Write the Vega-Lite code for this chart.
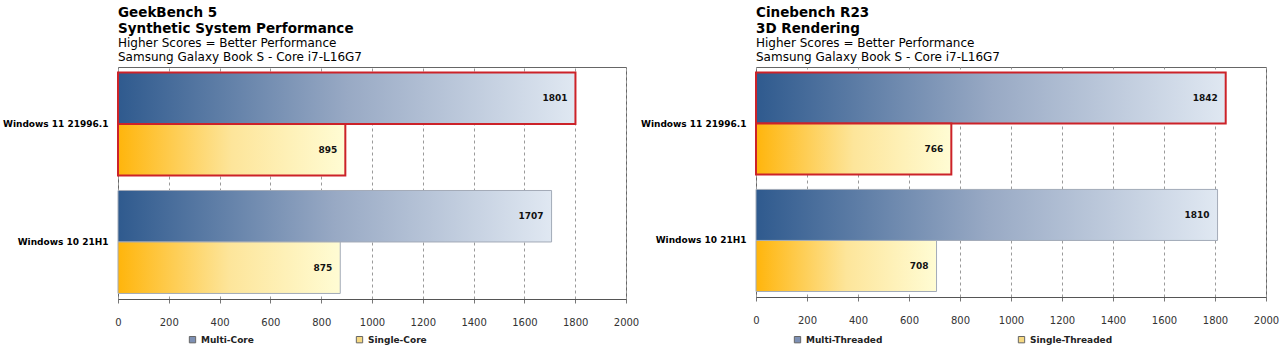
{
  "$schema": "https://vega.github.io/schema/vega-lite/v6.json",
  "background": "white",
  "padding": {"left": 2, "top": 5, "right": 0, "bottom": 2},
  "bounds": "flush",
  "spacing": 130,
  "config": {
    "font": "DejaVu Sans",
    "view": {"stroke": "#666", "strokeWidth": 1},
    "axisX": {"values": [0,200,400,600,800,1000,1200,1400,1600,1800,2000], "format": "d", "labelFlush": false, "grid": true, "gridDash": [3,3], "gridColor": "#9a9a9a", "tickColor": "#777", "tickSize": 4, "labelFont": "DejaVu Sans", "labelFontSize": 10, "labelColor": "#333", "labelPadding": 14, "domainColor": "#555", "title": null},
    "axisY": {"title": null, "ticks": false, "domain": false, "labelFont": "DejaVu Sans", "labelFontWeight": "bold", "labelFontSize": 9, "labelColor": "#000", "labelPadding": 10, "minExtent": 114, "maxExtent": 114, "labelLimit": 130},
    "title": {"anchor": "start", "frame": "group", "fontSize": 13.5, "fontWeight": "bold", "lineHeight": 16, "subtitleFontSize": 12, "subtitleLineHeight": 14, "subtitlePadding": 3, "offset": 4, "color": "#000", "subtitleColor": "#000", "subtitleFont": "DejaVu Sans"},
    "legend": {"symbolType": "square", "symbolSize": 40, "symbolStrokeColor": "#666", "symbolStrokeWidth": 1, "symbolOpacity": 1, "labelFont": "DejaVu Sans", "labelFontWeight": "bold", "labelFontSize": 9, "labelColor": "#222", "title": null, "direction": "horizontal", "orient": "none"}
  },
  "resolve": {"scale": {"color": "independent", "x": "independent", "y": "independent", "yOffset": "independent"}},
  "hconcat": [
    {
      "title": {"text": ["GeekBench 5", "Synthetic System Performance"], "subtitle": ["Higher  Scores = Better Performance", "Samsung  Galaxy  Book  S - Core  i7-L16G7"]},
      "width": 508,
      "height": 232,
      "data": {"values": [
        {"os": "Windows 11 21996.1", "series": "Multi-Core", "score": 1801},
        {"os": "Windows 11 21996.1", "series": "Single-Core", "score": 895},
        {"os": "Windows 10 21H1", "series": "Multi-Core", "score": 1707},
        {"os": "Windows 10 21H1", "series": "Single-Core", "score": 875}
      ]},
      "encoding": {
        "y": {"field": "os", "type": "nominal", "sort": ["Windows 11 21996.1", "Windows 10 21H1"], "scale": {"paddingInner": 0.127, "paddingOuter": 0.047}},
        "yOffset": {"field": "series", "type": "nominal", "sort": ["Multi-Core", "Single-Core"], "scale": {"paddingInner": 0}},
        "x": {"field": "score", "type": "quantitative", "scale": {"domain": [0, 2000], "nice": false}}
      },
      "layer": [
        {
          "mark": {"type": "bar"},
          "encoding": {
            "fill": {"condition": {"test": "datum.series === 'Multi-Core'", "value": {"gradient": "linear", "x1": 0, "y1": 0, "x2": 1, "y2": 0, "stops": [{"offset": 0, "color": "#2f5a8e"}, {"offset": 0.5, "color": "#98a9c4"}, {"offset": 1, "color": "#e0e8f2"}]}}, "value": {"gradient": "linear", "x1": 0, "y1": 0, "x2": 1, "y2": 0, "stops": [{"offset": 0, "color": "#ffb50c"}, {"offset": 0.5, "color": "#fde59a"}, {"offset": 1, "color": "#fffcd4"}]}},
            "stroke": {"condition": {"test": "datum.os === 'Windows 11 21996.1'", "value": "#cc2229"}, "value": "#a3abb8"},
            "strokeWidth": {"condition": {"test": "datum.os === 'Windows 11 21996.1'", "value": 2}, "value": 1}
          }
        },
        {
          "mark": {"type": "text", "align": "right", "dx": -8, "fontWeight": "bold", "fontSize": 9, "color": "#111"},
          "encoding": {"text": {"field": "score", "type": "quantitative"}}
        },
        {
          "mark": {"type": "square", "opacity": 0},
          "encoding": {
            "color": {"field": "series", "type": "nominal", "scale": {"domain": ["Multi-Core", "Single-Core"], "range": ["#7d90b4", "#f6d982"]}, "legend": {"legendX": 70, "legendY": 268, "columnPadding": 100}}
          }
        }
      ]
    },
    {
      "title": {"text": ["Cinebench  R23", "3D Rendering"], "subtitle": ["Higher  Scores = Better Performance", "Samsung  Galaxy  Book  S - Core  i7-L16G7"]},
      "width": 510,
      "height": 230,
      "data": {"values": [
        {"os": "Windows 11 21996.1", "series": "Multi-Threaded", "score": 1842},
        {"os": "Windows 11 21996.1", "series": "Single-Threaded", "score": 766},
        {"os": "Windows 10 21H1", "series": "Multi-Threaded", "score": 1810},
        {"os": "Windows 10 21H1", "series": "Single-Threaded", "score": 708}
      ]},
      "encoding": {
        "y": {"field": "os", "type": "nominal", "sort": ["Windows 11 21996.1", "Windows 10 21H1"], "scale": {"paddingInner": 0.127, "paddingOuter": 0.047}},
        "yOffset": {"field": "series", "type": "nominal", "sort": ["Multi-Threaded", "Single-Threaded"], "scale": {"paddingInner": 0}},
        "x": {"field": "score", "type": "quantitative", "scale": {"domain": [0, 2000], "nice": false}}
      },
      "layer": [
        {
          "mark": {"type": "bar"},
          "encoding": {
            "fill": {"condition": {"test": "datum.series === 'Multi-Threaded'", "value": {"gradient": "linear", "x1": 0, "y1": 0, "x2": 1, "y2": 0, "stops": [{"offset": 0, "color": "#2f5a8e"}, {"offset": 0.5, "color": "#98a9c4"}, {"offset": 1, "color": "#e0e8f2"}]}}, "value": {"gradient": "linear", "x1": 0, "y1": 0, "x2": 1, "y2": 0, "stops": [{"offset": 0, "color": "#ffb50c"}, {"offset": 0.5, "color": "#fde59a"}, {"offset": 1, "color": "#fffcd4"}]}},
            "stroke": {"condition": {"test": "datum.os === 'Windows 11 21996.1'", "value": "#cc2229"}, "value": "#a3abb8"},
            "strokeWidth": {"condition": {"test": "datum.os === 'Windows 11 21996.1'", "value": 2}, "value": 1}
          }
        },
        {
          "mark": {"type": "text", "align": "right", "dx": -8, "fontWeight": "bold", "fontSize": 9, "color": "#111"},
          "encoding": {"text": {"field": "score", "type": "quantitative"}}
        },
        {
          "mark": {"type": "square", "opacity": 0},
          "encoding": {
            "color": {"field": "series", "type": "nominal", "scale": {"domain": ["Multi-Threaded", "Single-Threaded"], "range": ["#7d90b4", "#f6d982"]}, "legend": {"legendX": 37, "legendY": 268, "columnPadding": 133}}
          }
        }
      ]
    }
  ]
}
